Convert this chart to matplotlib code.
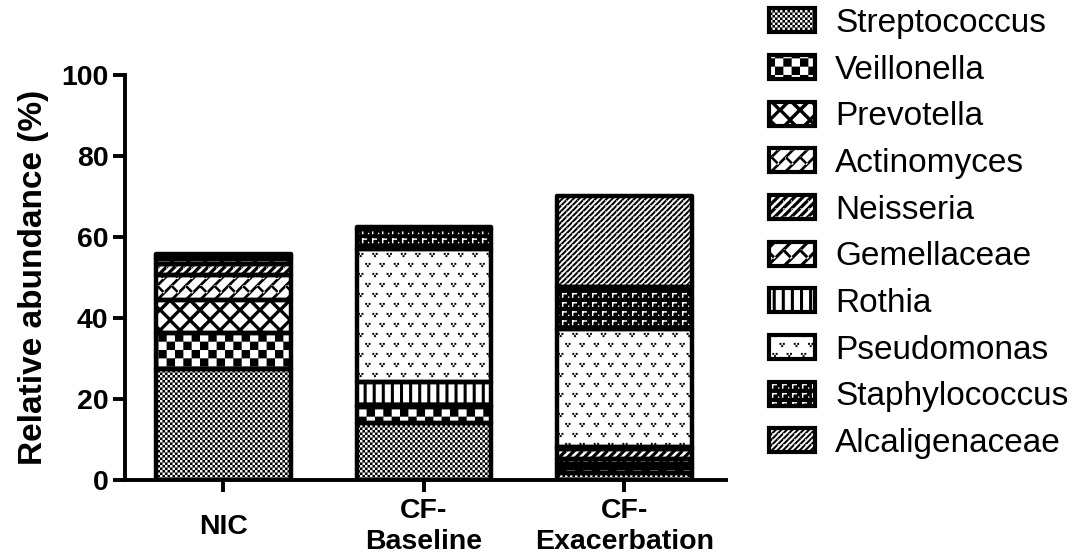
import warnings
import numpy as np
import matplotlib
matplotlib.use("Agg")
import matplotlib.pyplot as plt
from matplotlib import hatch as mhatch
from matplotlib.path import Path
from matplotlib.patches import Patch

warnings.filterwarnings("ignore", category=matplotlib.MatplotlibDeprecationWarning)

DPI = 100

# ---------------------------------------------------------------- data
groups = ["NIC", "CF-\nBaseline", "CF-\nExacerbation"]
taxa = ["Streptococcus", "Veillonella", "Prevotella", "Actinomyces", "Neisseria",
        "Gemellaceae", "Rothia", "Pseudomonas", "Staphylococcus", "Alcaligenaceae"]

streptococcus = [27.3, 14.0, 1.8]
veillonella = [9.1, 4.0, 1.2]
prevotella = [8.0, 0.3, 1.0]
actinomyces = [6.3, 0.1, 1.1]
neisseria = [2.6, 0.1, 2.6]
gemellaceae = [1.2, 0.0, 0.3]
rothia = [0.4, 5.8, 0.2]
pseudomonas = [0.3, 32.7, 29.2]
staphylococcus = [0.4, 5.0, 10.2]
alcaligenaceae = [0.3, 0.4, 22.5]

series = [streptococcus, veillonella, prevotella, actinomyces, neisseria,
          gemellaceae, rothia, pseudomonas, staphylococcus, alcaligenaceae]

y_ticks = [0, 20, 40, 60, 80, 100]


# ---------------------------------------------------------------- fill patterns
def rect(x0, y0, x1, y1):
    return [(x0, y0), (x1, y0), (x1, y1), (x0, y1)]


def diag_band(w):
    """'/' stripe through a unit cell, wrapping seamlessly into neighbours."""
    return [
        [(0, 0), (w, 0), (1, 1 - w), (1, 1), (1 - w, 1), (0, w)],
        [(0, 1 - w), (0, 1), (w, 1)],
        [(1 - w, 0), (1, 0), (1, w)],
    ]


def diamond(cx, cy, h):
    return [(cx - h, cy), (cx, cy - h), (cx + h, cy), (cx, cy + h)]


def seg_band(p0, p1, t):
    (x0, y0), (x1, y1) = p0, p1
    dx, dy = x1 - x0, y1 - y0
    n = np.hypot(dx, dy)
    nx, ny = -dy / n * t, dx / n * t
    return [(x0 + nx, y0 + ny), (x1 + nx, y1 + ny), (x1 - nx, y1 - ny), (x0 - nx, y0 - ny)]


def brick(w, t):
    return diag_band(w) + [seg_band((0.5, 0.5), (0.0, 1.0), t)]


def v_cluster(cx, cy, cw, ch, s=0.95):
    pts = [(-1.7, 1.1), (1.7, 1.1), (0.0, -1.1)]
    return [rect(cx + (px - s) / cw, cy + (py - s) / ch,
                 cx + (px + s) / cw, cy + (py + s) / ch) for px, py in pts]


PATTERNS = {}


def register(key, nx, ny, shapes):
    PATTERNS[key] = (nx, ny, shapes)


register("c", 20, 20, [rect(0, 0, .5, .5), rect(.5, .5, 1, 1)])          # fine checker
register("k", 6, 6, [rect(0, 0, .5, .5), rect(.5, .5, 1, 1)])            # coarse checker
register("d", 5, 5, [diamond(.5, .5, .37), diamond(0, 0, .37), diamond(1, 0, .37),
                     diamond(0, 1, .37), diamond(1, 1, .37)])            # lattice holes
register("b", 7, 7, brick(0.13, 0.085))                                  # diagonal brick
register("g", 6, 6, brick(0.13, 0.085))
register("n", 12, 12, diag_band(0.27))                                   # wide stripes
register("a", 18, 18, diag_band(0.25))                                   # fine stripes
register("r", 11, 1, [rect(0, 0, 0.33, 1)])                              # vertical bars
_cw, _ch = DPI / 7, DPI / 5
register("p", 7, 5, v_cluster(.25, .25, _cw, _ch) + v_cluster(.75, .75, _cw, _ch))
_sw, _sh = DPI / 10, DPI / 11
register("s", 10, 11, [rect(2 / _sw, 5.6 / _sh, 7 / _sw, 7 / _sh),
                       rect(2 / _sw, 2.2 / _sh, 3.4 / _sw, 7 / _sh),
                       rect(8 / _sw, 2.2 / _sh, 9.3 / _sw, 3.5 / _sh)])


class TileHatch(mhatch.HatchPatternBase):
    """Hatch built from filled polygons repeated on a rectangular grid."""

    def __init__(self, hatch, density):
        self.polys = []
        for ch in hatch:
            if ch not in PATTERNS:
                continue
            nx, ny, shapes = PATTERNS[ch]
            for r in range(ny):
                for c in range(nx):
                    for poly in shapes:
                        self.polys.append([((c + px) / nx, (r + py) / ny) for px, py in poly])
        self.num_vertices = sum(len(p) + 1 for p in self.polys)

    def set_vertices_and_codes(self, vertices, codes):
        i = 0
        for poly in self.polys:
            n = len(poly)
            vertices[i:i + n] = poly
            vertices[i + n] = poly[0]
            codes[i] = Path.MOVETO
            codes[i + 1:i + n] = Path.LINETO
            codes[i + n] = Path.CLOSEPOLY
            i += n + 1


mhatch._hatch_types.append(TileHatch)

# (pattern colour, background colour, hatch key) for each taxon
styles = {
    "Streptococcus": ("black", "white", "c"),
    "Veillonella": ("black", "white", "k"),
    "Prevotella": ("white", "black", "d"),
    "Actinomyces": ("black", "white", "b"),
    "Neisseria": ("black", "white", "n"),
    "Gemellaceae": ("black", "white", "g"),
    "Rothia": ("black", "white", "r"),
    "Pseudomonas": ("black", "white", "p"),
    "Staphylococcus": ("white", "black", "s"),
    "Alcaligenaceae": ("black", "white", "a"),
}

# ---------------------------------------------------------------- figure
plt.rcParams["font.family"] = ["Liberation Sans", "DejaVu Sans"]
plt.rcParams["hatch.linewidth"] = 0.05

W, H = 1090, 558
fig = plt.figure(figsize=(W / DPI, H / DPI), dpi=DPI)
ax = fig.add_axes([125 / W, 78 / H, (726 - 125) / W, (480 - 75) / H])

EDGE = 3.2
x = np.arange(len(groups))
bottom = np.zeros(len(groups))
for name, vals in zip(taxa, series):
    fg, bg, key = styles[name]
    vals = np.asarray(vals, dtype=float)
    ax.bar(x, vals, width=0.67, bottom=bottom, color=bg, edgecolor=fg,
           linewidth=0, hatch=key, zorder=2)
    ax.bar(x, vals, width=0.67, bottom=bottom, facecolor="none", edgecolor="black",
           linewidth=EDGE, joinstyle="round", zorder=3)
    bottom += vals

ax.set_xlim(-0.491, 2.507)
ax.set_ylim(0, 100)
ax.set_yticks(y_ticks)
ax.set_xticks(x)
ax.set_xticklabels(groups, fontsize=20.5, fontweight="bold", linespacing=1.25)
for t in ax.get_xticklabels():
    t.set_verticalalignment("center")
for t in ax.get_yticklabels():
    t.set_fontsize(20.5)
    t.set_fontweight("bold")

for side in ("top", "right"):
    ax.spines[side].set_visible(False)
for side in ("left", "bottom"):
    ax.spines[side].set_linewidth(2.8)
ax.tick_params(axis="both", direction="out", length=8.5, width=2.8)
ax.tick_params(axis="x", pad=25)
ax.tick_params(axis="y", pad=3.5)

ax.set_ylabel("Relative abundance (%)", fontsize=24, fontweight="bold", labelpad=9)

# legend with boxed pattern swatches
handles = []
for name in taxa:
    fg, bg, key = styles[name]
    swatch = Patch(facecolor=bg, edgecolor=fg, hatch=key, linewidth=0)
    frame = Patch(facecolor="none", edgecolor="black", linewidth=3, joinstyle="round")
    handles.append((swatch, frame))

fig.legend(handles, taxa, loc="upper left", bbox_to_anchor=(769 / W, 1 - 8 / H),
           frameon=False, fontsize=24, handlelength=1.38, handleheight=0.72,
           handletextpad=0.6, labelspacing=0.47, borderpad=0, borderaxespad=0)

fig.savefig("out.png", dpi=DPI)
